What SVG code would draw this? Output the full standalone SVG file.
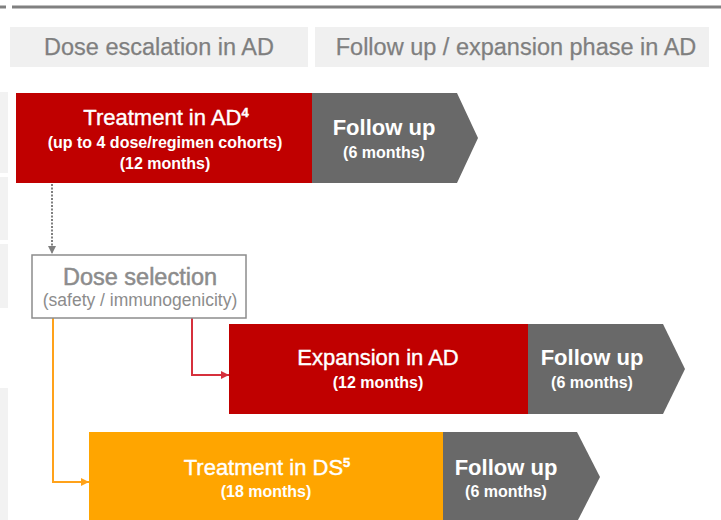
<svg xmlns="http://www.w3.org/2000/svg" width="721" height="520" viewBox="0 0 721 520">
<style>
text{font-family:"Liberation Sans",Arial,sans-serif;text-anchor:middle}
.hdr{fill:#f0f0f0}
.hdrt{font-size:23.5px;fill:#7f7f7f;stroke:#7f7f7f;stroke-width:0.25}
.strip{fill:#f2f2f2}
.title{font-size:22px;fill:#ffffff;stroke:#ffffff;stroke-width:0.4}
.sub{font-size:16px;font-weight:bold;fill:#ffffff}
.fu{font-size:22px;font-weight:bold;fill:#ffffff}
.red{fill:#c00000}
.gray{fill:#696969}
.orange{fill:#ffa500}
.sel{fill:#ffffff;stroke:#8c8c8c;stroke-width:1.5}
.selt{fill:#8c8c8c}
.seltb{stroke:#8c8c8c;stroke-width:0.5}
.conn{fill:none;stroke-width:2}
</style>
<defs>
<marker id="ag" markerUnits="userSpaceOnUse" markerWidth="10" markerHeight="10" refX="8" refY="5" orient="auto"><path d="M0,1 L8,5 L0,9 Z" fill="#7f7f7f"/></marker>
<marker id="ar" markerUnits="userSpaceOnUse" markerWidth="10" markerHeight="10" refX="8" refY="5" orient="auto"><path d="M0,1 L8,5 L0,9 Z" fill="#d6303c"/></marker>
<marker id="ao" markerUnits="userSpaceOnUse" markerWidth="10" markerHeight="10" refX="8" refY="5" orient="auto"><path d="M0,1 L8,5 L0,9 Z" fill="#ffa21a"/></marker>
</defs>

<g id="frame">
<line x1="0" y1="7" x2="6" y2="7" stroke="#808080" stroke-width="3"/>
<line x1="12" y1="7" x2="721" y2="7" stroke="#808080" stroke-width="3"/>
<rect class="strip" x="0" y="92" width="8" height="81"/>
<rect class="strip" x="0" y="177" width="8" height="63"/>
<rect class="strip" x="0" y="244" width="8" height="64"/>
<rect class="strip" x="0" y="388" width="8" height="132"/>
</g>

<g id="header-escalation">
<rect class="hdr" x="10" y="27" width="298" height="40"/>
<text class="hdrt" x="159" y="55">Dose escalation in AD</text>
</g>
<g id="header-followup">
<rect class="hdr" x="315" y="27" width="394" height="40"/>
<text class="hdrt" x="516" y="55">Follow up / expansion phase in AD</text>
</g>

<g id="connectors">
<path class="conn" d="M52,184 V254" stroke="#7f7f7f" stroke-width="2.5" stroke-dasharray="2 1.5" marker-end="url(#ag)"/>
<path class="conn" d="M192,318 V375 H229" stroke="#d6303c" marker-end="url(#ar)"/>
<path class="conn" d="M53,318 V482 H89" stroke="#ffa21a" marker-end="url(#ao)"/>
</g>

<g id="treatment-ad">
<rect class="red" x="16" y="93" width="296" height="90"/>
<text class="title" x="166" y="125">Treatment in AD<tspan font-size="13" font-weight="bold" dy="-8">4</tspan></text>
<text class="sub" x="165" y="148">(up to 4 dose/regimen cohorts)</text>
<text class="sub" x="165" y="169">(12 months)</text>
</g>
<g id="followup-1">
<polygon class="gray" points="312,93 457,93 478,138 457,183 312,183"/>
<text class="fu" x="384" y="135">Follow up</text>
<text class="sub" x="384" y="158">(6 months)</text>
</g>

<g id="dose-selection">
<rect class="sel" x="32" y="255" width="214" height="63"/>
<text class="selt seltb" x="140" y="285" font-size="23.5">Dose selection</text>
<text class="selt" x="140" y="306" font-size="17.5">(safety / immunogenicity)</text>
</g>

<g id="expansion-ad">
<rect class="red" x="229" y="324" width="299" height="90"/>
<text class="title" x="378" y="365">Expansion in AD</text>
<text class="sub" x="378" y="388">(12 months)</text>
</g>
<g id="followup-2">
<polygon class="gray" points="528,324 663,324 685,369 663,414 528,414"/>
<text class="fu" x="592" y="365">Follow up</text>
<text class="sub" x="592" y="388">(6 months)</text>
</g>

<g id="treatment-ds">
<rect class="orange" x="89" y="432" width="354" height="90"/>
<text class="title" x="267" y="475">Treatment in DS<tspan font-size="13" font-weight="bold" dy="-8">5</tspan></text>
<text class="sub" x="266" y="497">(18 months)</text>
</g>
<g id="followup-3">
<polygon class="gray" points="443,432 577,432 600,477 577,522 443,522"/>
<text class="fu" x="506" y="475">Follow up</text>
<text class="sub" x="506" y="497">(6 months)</text>
</g>
</svg>
